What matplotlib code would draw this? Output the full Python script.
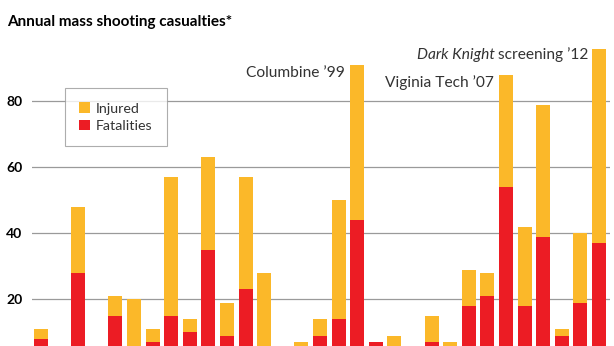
import matplotlib
matplotlib.use("Agg")
import matplotlib.pyplot as plt
import numpy as np

years = list(range(1982, 2013))
fatalities = [8, 0, 28, 0, 15, 6, 7, 15, 10, 35, 9, 23, 5, 6, 5, 9, 14, 44, 7, 5,
              0, 7, 5, 18, 21, 54, 18, 39, 9, 19, 37]
total = [11, 0, 48, 0, 21, 20, 11, 57, 14, 63, 19, 57, 28, 6, 7, 14, 50, 91, 7, 9,
         0, 15, 7, 29, 28, 88, 42, 79, 11, 40, 96]
injured = [t - f for t, f in zip(total, fatalities)]
y_ticks = [20, 40, 60, 80]

plt.rcParams['font.family'] = ['Lato', 'DejaVu Sans']

W, H = 614, 346
fig = plt.figure(figsize=(W / 100, H / 100), dpi=100)
ax = fig.add_axes([32 / W, 0, (610 - 32) / W, (H - 40) / H])

x = np.arange(len(years))
ax.bar(x, fatalities, width=0.75, color='#ec1c24', label='Fatalities', zorder=3)
ax.bar(x, injured, width=0.75, bottom=fatalities, color='#fbb829', label='Injured', zorder=3)

ax.set_xlim(-0.484, 30.59)
ax.set_ylim(5.88, 98.6)
ax.set_yticks(y_ticks)
ax.set_xticks([])
ax.yaxis.grid(True, color='#9a9a9a', linewidth=0.9)
ax.set_axisbelow(True)
ax.tick_params(axis='y', length=0, pad=7, labelsize=10)
for lab in ax.get_yticklabels():
    lab.set_fontweight('bold')
for s in ax.spines.values():
    s.set_visible(False)

fig.text(7 / W, 1 - 22 / H, 'Annual mass shooting casualties*', fontsize=11,
         fontweight='bold', va='center', ha='left')

handles, labels = ax.get_legend_handles_labels()
leg = fig.legend(handles[::-1], labels[::-1], loc='upper left',
                 bbox_to_anchor=(65 / W, 1 - 88 / H), fontsize=10.3,
                 frameon=True, fancybox=False, edgecolor='#999999',
                 handlelength=0.75, handleheight=0.75, handletextpad=0.4,
                 labelspacing=0.35, borderpad=1.0, borderaxespad=0)
leg.get_frame().set_linewidth(0.8)
for t in leg.get_texts():
    t.set_color('#333333')

ann = dict(fontsize=11.2, color='#333333', va='center', ha='right')
ax.text(17 - 0.65, 88.6, 'Columbine \u201999', **ann)
ax.text(25 - 0.65, 85.8, 'Viginia Tech \u201907', **ann)
t1 = ax.text(30 - 0.55, 94.2, ' screening \u201912', **ann)
ax.annotate('Dark Knight', xy=(0, 0.5), xycoords=t1, style='italic', **ann)

fig.savefig('out.png', dpi=100)
